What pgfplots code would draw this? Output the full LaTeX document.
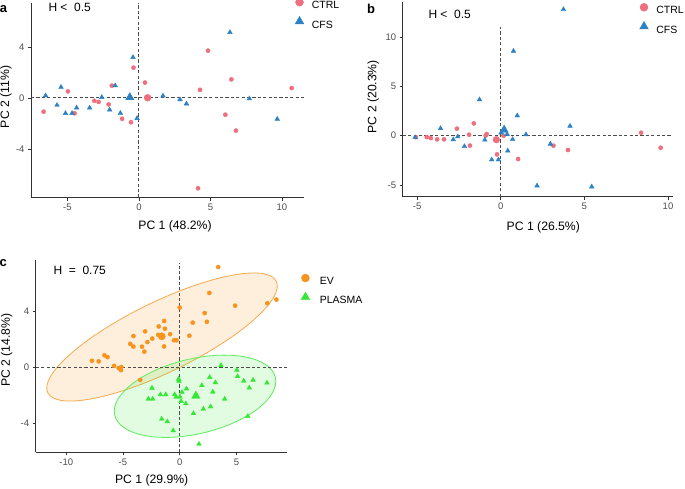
\documentclass[border=0pt]{standalone}
\usepackage{fontspec}
\setmainfont{Liberation Sans}
\usepackage{pgfplots}
\pgfplotsset{compat=1.18}

\definecolor{ctrl}{HTML}{EE6F7D}
\definecolor{cfs}{HTML}{2C82C4}
\definecolor{ev}{HTML}{F7941E}
\definecolor{plasma}{HTML}{33E833}
\definecolor{tickgrey}{HTML}{4D4D4D}

\tikzset{zero/.style={black!70, line width=1pt, dash pattern=on 3.2pt off 2.2pt}}
\pgfplotsset{
  pca/.style={
    scale only axis, clip=false,
    axis lines=left,
    axis line style={-, black!80, line width=0.9pt},
    tick style={black!80, line width=0.9pt},
    tick align=outside, major tick length=3pt,
    ticklabel style={font=\fontsize{9.5}{10}\selectfont, text=tickgrey},
    legend cell align=left,
    legend style={draw=none, fill=none, inner sep=0pt, anchor=north west,
      font=\fontsize{10.5}{11}\selectfont, row sep=6pt,
      nodes={inner sep=0pt}},
    legend image code/.code={\draw[#1] plot coordinates {(0pt,3.8pt)};},
  },
  dot/.style={only marks, mark=*, mark size=2.1pt, forget plot},
  tri/.style={only marks, mark=triangle*, mark size=2.7pt, forget plot},
}
\newcommand\lbl{\fontsize{12.2}{13}\selectfont}

\begin{document}
\begin{tikzpicture}
\useasboundingbox (0,0) rectangle (685pt,488pt);

% ---- a ----
\begin{axis}[pca, at={(31pt,290.3pt)}, anchor=south west, width=273pt, height=194.7pt,
  xmin=-7.55, xmax=11.54, ymin=-7.82, ymax=7.45,
  xtick={-5,0,5,10}, xticklabels={-5,0,5,10},
  ytick={-4,0,4}, yticklabels={-4,0,4},
  legend style={at={(0.967,1.0257)}, column sep=8pt}]
\draw[zero] (axis cs:-7.55,0) -- (axis cs:11.54,0);
\draw[zero] (axis cs:0,-7.82) -- (axis cs:0,7.45);
\addplot[dot, ctrl] coordinates {(-6.67,-1.07) (-4.97,0.52) (-4.5,-1.2) (-3.12,-0.22) (-2.82,-0.31) (-2.12,-0.5) (-1.9,0.97) (-1.18,-1.63) (-0.56,-1.9) (-0.38,2.38) (0.42,1.21) (4.27,0.64) (4.83,3.71) (4.13,-7.08) (6.04,-1.31) (6.46,1.46) (6.78,-2.56) (10.68,0.78)};
\addplot[tri, cfs] coordinates {(-6.53,0.18) (-5.45,0.85) (-5.73,-0.56) (-5.14,-1.2) (-4.68,-1.2) (-4.36,-0.77) (-3.45,-0.77) (-2.6,0.06) (-2.05,-0.93) (-1.66,0.97) (-1.3,-1.19) (-0.42,3.19) (-0.13,-1.59) (1.68,0.17) (2.87,-0.12) (3.32,-0.45) (6.36,5.15) (7.72,-0.05) (9.67,-1.65)};
\addplot[dot, ctrl, mark size=3.4pt] coordinates {(0.6,0.02)};
\addplot[tri, cfs, mark size=4.8pt] coordinates {(-0.64,0.05)};
\addlegendimage{only marks, mark=*, mark size=4pt, ctrl}
\addlegendentry{CTRL}
\addlegendimage{only marks, mark=triangle*, mark size=5pt, cfs}
\addlegendentry{CFS}
\end{axis}

% ---- b ----
\begin{axis}[pca, at={(402.7pt,291.3pt)}, anchor=south west, width=270pt, height=195pt,
  xmin=-5.86, xmax=10.28, ymin=-6.18, ymax=13.58,
  xtick={-5,0,5,10}, xticklabels={-5,0,5,10},
  ytick={-5,0,5,10}, yticklabels={-5,0,5,10},
  legend style={at={(0.877,0.993)}, column sep=8pt}]
\draw[zero] (axis cs:-5.86,0) -- (axis cs:10.28,0);
\draw[zero] (axis cs:0,-6.18) -- (axis cs:0,11);
\addplot[dot, ctrl] coordinates {(-5.07,-0.15) (-4.42,-0.14) (-4.18,-0.24) (-3.8,-0.37) (-3.39,-0.37) (-2.62,0.71) (-1.89,0.1) (-1.84,-1.0) (-1.61,1.25) (-0.84,0.17) (-0.9,0.0) (-0.22,-1.89) (0.17,0.0) (1.04,-2.36) (3.15,-1.01) (4.02,-1.45) (8.39,0.3) (9.56,-1.22)};
\addplot[tri, cfs] coordinates {(-5.12,-0.17) (-3.6,0.74) (-2.84,-0.39) (-2.57,-0.09) (-2.17,-1.08) (-1.27,3.66) (-0.95,-0.42) (-0.54,-2.43) (-0.14,-2.43) (0.02,0.3) (0.38,0.15) (0.71,-0.37) (0.42,-1.53) (0.76,8.58) (0.99,2.03) (1.51,0.12) (2.17,-5.07) (2.97,-0.84) (3.75,12.8) (4.14,0.98) (5.44,-5.17)};
\addplot[dot, ctrl, mark size=3.4pt] coordinates {(-0.26,-0.4)};
\addplot[tri, cfs, mark size=4.8pt] coordinates {(0.2,0.59)};
\addlegendimage{only marks, mark=*, mark size=4pt, ctrl}
\addlegendentry{CTRL}
\addlegendimage{only marks, mark=triangle*, mark size=5pt, cfs}
\addlegendentry{CFS}
\end{axis}

% ---- c ----
\begin{axis}[pca, at={(35.7pt,35.7pt)}, anchor=south west, width=251.6pt, height=192.3pt,
  xmin=-12.69, xmax=9.48, ymin=-6.04, ymax=7.62,
  xtick={-10,-5,0,5}, xticklabels={-10,-5,0,5},
  ytick={-4,0,4}, yticklabels={-4,0,4},
  legend style={at={(1.054,0.928)}, column sep=10pt}]
\draw[draw=ev!80, line width=0.8pt, fill=ev, fill opacity=0.15,
  rotate around={26:(axis cs:-1.56,2.15)}] (axis cs:-1.56,2.15) ellipse [x radius=127.1pt, y radius=35.1pt];
\draw[draw=plasma!80, line width=0.8pt, fill=plasma, fill opacity=0.15,
  rotate around={13.3:(axis cs:1.35,-2.06)}] (axis cs:1.35,-2.06) ellipse [x radius=82.5pt, y radius=37.5pt];
\draw[zero] (axis cs:-12.69,0) -- (axis cs:9.48,0);
\draw[zero] (axis cs:0,-6.04) -- (axis cs:0,7.4);
\addplot[dot, ev] coordinates {(3.39,7.12) (2.61,5.28) (4.88,4.38) (7.72,4.55) (8.52,4.81) (0,4.24) (2.2,3.85) (2.39,3.23) (1.15,3.17) (-1.37,3.29) (-1.85,2.9) (-1.3,2.74) (-0.85,2.35) (-3.05,2.55) (-4.08,2.22) (-2.42,2.04) (-2.85,1.79) (-1.9,2.3) (-0.5,1.92) (-0.29,1.92) (0.85,2.24) (-1.38,1.48) (-3.32,1.46) (-4.36,1.66) (-4.08,1.47) (-3.12,1.11) (-6.63,0.85) (-6.36,0.72) (-7.73,0.46) (-7.14,0.42) (-5.78,0.1) (-5.38,-0.06) (-5.15,0.02) (-5.17,-0.2) (-3.48,-0.9)};
\addplot[tri, plasma] coordinates {(3.64,0.13) (5.04,-0.2) (5.1,-0.65) (5.64,-0.97) (6.46,-0.91) (7.69,-1.11) (6.13,-1.46) (6.0,-3.48) (2.64,-0.71) (3.14,-1.08) (1.95,-1.29) (0.6,-1.53) (2.92,-1.75) (3.96,-2.25) (-0.09,-0.83) (-0.06,-0.98) (0.2,-1.77) (-0.45,-1.94) (-0.32,-2.12) (0.02,-2.1) (0.12,-2.42) (0.54,-2.58) (-1.23,-1.94) (-1.7,-1.94) (-2.44,-1.47) (-2.76,-2.25) (-2.38,-2.25) (2.08,-2.96) (2.72,-2.8) (1.21,-3.28) (-1.59,-3.67) (-1.09,-3.86) (-0.57,-4.5) (1.7,-5.46)};
\addplot[dot, ev, mark size=3.6pt] coordinates {(-1.58,2.2)};
\addplot[tri, plasma, mark size=4.8pt] coordinates {(1.42,-2.03)};
\addlegendimage{only marks, mark=*, mark size=4pt, ev}
\addlegendentry{EV}
\addlegendimage{only marks, mark=triangle*, mark size=5pt, plasma}
\addlegendentry{PLASMA}
\end{axis}

% axis titles and annotations
\node[font=\lbl] at (175pt,262pt) {PC 1 (48.2\%)};
\node[font=\lbl, rotate=90] at (6pt,391pt) {PC 2 (11\%)};
\node[font=\lbl] at (543.3pt,260.3pt) {PC 1 (26.5\%)};
\node[font=\lbl, rotate=90] at (373.3pt,391.3pt) {PC 2 (20.3\%)};
\node[font=\lbl] at (151.7pt,8pt) {PC 1 (29.9\%)};
\node[font=\lbl, rotate=90] at (6.7pt,138pt) {PC 2 (14.8\%)};
\node[font=\fontsize{12}{13}\selectfont, anchor=west, inner sep=0pt] at (48.3pt,480.7pt) {H <~~0.5};
\node[font=\fontsize{12}{13}\selectfont, anchor=west, inner sep=0pt] at (428.3pt,474pt) {H <~~0.5};
\node[font=\fontsize{12}{13}\selectfont, anchor=west, inner sep=0pt] at (53.3pt,217.3pt) {H ~=~~0.75};
\node[font=\bfseries\fontsize{13}{14}\selectfont, inner sep=0pt] at (3.5pt,478.7pt) {a};
\node[font=\bfseries\fontsize{13}{14}\selectfont, inner sep=0pt] at (371pt,478.7pt) {b};
\node[font=\bfseries\fontsize{13}{14}\selectfont, inner sep=0pt] at (3.3pt,224.7pt) {c};
\end{tikzpicture}
\end{document}
